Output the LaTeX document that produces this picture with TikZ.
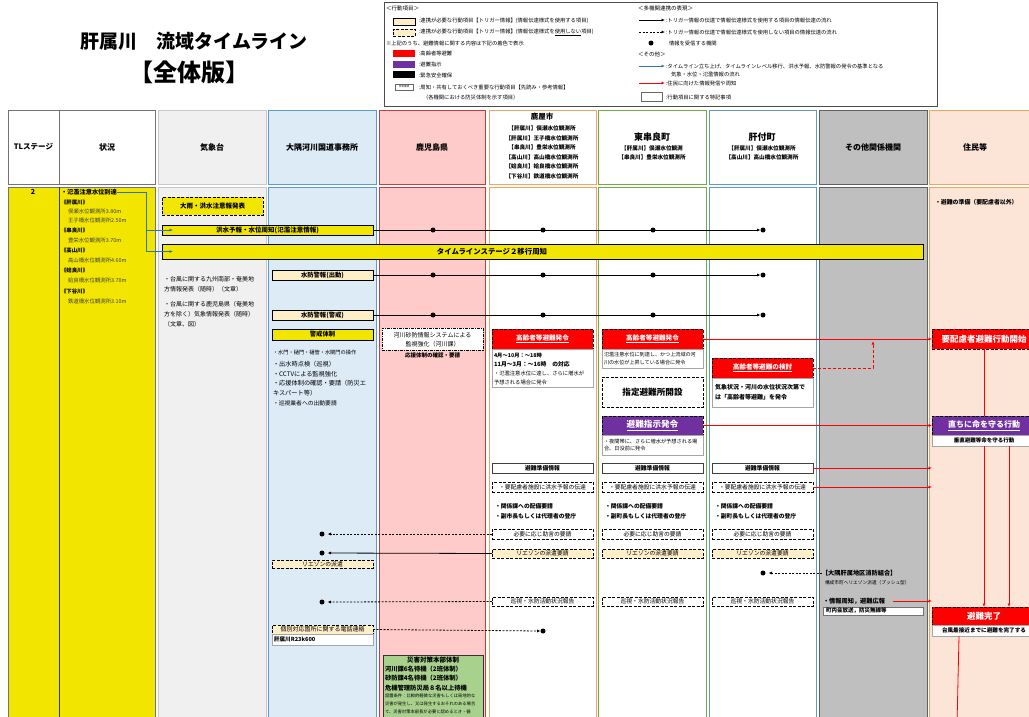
\documentclass[tikz,border=0pt]{standalone}
\usepackage{fontspec}
\setmainfont{Noto Sans CJK JP}
\usetikzlibrary{arrows.meta}
\definecolor{tly}{HTML}{F2E600}
\definecolor{cream}{HTML}{FFEFC8}
\definecolor{kishoF}{HTML}{F0F0F0}
\definecolor{kishoD}{HTML}{C8C8C8}
\definecolor{osumiF}{HTML}{DDEBF7}
\definecolor{osumiD}{HTML}{5B9BD5}
\definecolor{kagoF}{HTML}{FFCACA}
\definecolor{kagoD}{HTML}{C83C3C}
\definecolor{oraD}{HTML}{F4A460}
\definecolor{greD}{HTML}{70AD47}
\definecolor{sonoF}{HTML}{BFBFBF}
\definecolor{sonoD}{HTML}{606060}
\definecolor{jumF}{HTML}{FCE4D6}
\definecolor{redA}{HTML}{FF0000}
\definecolor{purA}{HTML}{7030A0}
\definecolor{greF}{HTML}{A9D18E}
\definecolor{blueA}{HTML}{2E75B6}
\definecolor{noteD}{HTML}{A6A6A6}
\newcommand\fs[1]{\fontsize{#1}{#1}\selectfont}
\newcounter{tn}
\newcommand\tx[4][]{\stepcounter{tn}\node[anchor=west,#1] (t\arabic{tn}) at (#2,#3) {#4};}
\newcommand\tc[4][]{\stepcounter{tn}\node[#1] (t\arabic{tn}) at (#2,#3) {#4};}
\newcommand\bx[7]{\node[#6, minimum width={(#4-#2)*1pt}, minimum height={(#5-#3)*1pt}] (#1) at ({(#2+#4)/2},{(#3+#5)/2}) {#7};}
\tikzset{
 hdr/.style={line width=0.9pt},
 ybox/.style={draw=black, fill=tly, line width=0.8pt},
 ydbox/.style={draw=black, fill=tly, line width=1pt, dash pattern=on 3pt off 1.5pt},
 cbox/.style={draw=black, fill=cream, line width=0.8pt},
 cdbox/.style={draw=black, fill=cream, line width=1pt, dash pattern=on 3pt off 1.5pt},
 wdbox/.style={draw=black, fill=white, line width=0.9pt, dash pattern=on 3pt off 1.5pt},
 wbox/.style={draw=black!75, fill=white, line width=0.8pt},
 note/.style={draw=noteD, fill=white, line width=0.5pt},
 rbox/.style={draw=black, fill=redA, line width=1pt, dash pattern=on 3pt off 1.5pt, text=white},
 pbox/.style={draw=black, fill=purA, line width=1pt, dash pattern=on 3pt off 1.5pt, text=white},
 ddbox/.style={draw=black, fill=white, line width=0.9pt, dash pattern=on 3pt off 1pt on 1pt off 1pt},
 dotn/.style={circle, fill=black, minimum size=5pt},
 arr/.style={draw=black, line width=0.8pt, -{Latex[length=3.5pt,width=3pt]}},
 darr/.style={arr, dash pattern=on 2pt off 1.5pt},
 rarr/.style={draw=redA, line width=0.8pt, -{Latex[length=3.5pt,width=3pt]}},
 barr/.style={draw=blueA, line width=0.8pt, -{Latex[length=3.5pt,width=3pt]}},
}
\begin{document}
\begin{tikzpicture}[x=1pt,y=-1pt, every node/.style={inner sep=0pt, outer sep=0pt}]
\useasboundingbox (0,0) rectangle (1029,716);
\clip (0,0) rectangle (1029,716);
\fill[white] (0,0) rectangle (1029,716);
% title
\tc[font=\bfseries\fs{19}]{194}{41}{肝属川\quad 流域タイムライン}
\tc[font=\bfseries\fs{24}]{189}{72}{【全体版】}
% legend
\bx{leg}{384}{2}{937}{106}{draw=black!70, line width=0.6pt}{}
\tx[font=\fs{5.5}]{386}{8}{＜行動項目＞}
\bx{ls1}{393}{18}{415}{25}{cbox, line width=0.6pt}{}
\tx[font=\fs{5.3}]{419}{21}{:連携が必要な行動項目【トリガー情報】(情報伝達様式を使用する項目)}
\bx{ls2}{393}{29}{415}{36}{cdbox, line width=0.6pt}{}
\tx[font=\fs{5.3}]{419}{32}{:連携が必要な行動項目【トリガー情報】(情報伝達様式を\underline{使用しない}項目)}
\tx[font=\fs{5.3}]{386}{43}{※上記のうち、避難情報に関する内容は下記の着色で表示}
\bx{ls3}{393}{50}{415}{57}{fill=redA}{}
\tx[font=\fs{5.3}]{419}{53}{:高齢者等避難}
\bx{ls4}{393}{61}{415}{68}{fill=purA}{}
\tx[font=\fs{5.3}]{419}{64}{:避難指示}
\bx{ls5}{393}{71}{415}{78}{fill=black}{}
\tx[font=\fs{5.3}]{419}{75}{:緊急安全確保}
\bx{ls6}{395}{84}{413}{90}{note, draw=black!60}{\fs{2.5}参考事項}
\tx[font=\fs{5.3}]{419}{87}{:周知・共有しておくべき重要な行動項目【先読み・参考情報】}
\tx[font=\fs{5.3}]{423}{97}{（各機関における防災体制を示す項目）}
\tx[font=\fs{5.5}]{638}{8}{＜多機関連携の表現＞}
\coordinate (la1) at (639,20); \coordinate (la1e) at (665,20);
\draw[arr] (la1) -- (la1e);
\tx[font=\fs{5.3}]{666}{20}{:トリガー情報の伝達で情報伝達様式を使用する項目の情報伝達の流れ}
\coordinate (la2) at (639,32); \coordinate (la2e) at (665,32);
\draw[darr] (la2) -- (la2e);
\tx[font=\fs{5.3}]{666}{32}{:トリガー情報の伝達で情報伝達様式を使用しない項目の情報伝達の流れ}
\node[dotn] (ld) at (651,43) {};
\tx[font=\fs{5.3}]{669}{43}{情報を受信する機関}
\tx[font=\fs{5.5}]{638}{54}{＜その他＞}
\coordinate (la3) at (639,66); \coordinate (la3e) at (665,66);
\draw[barr] (la3) -- (la3e);
\tx[font=\fs{5.3}]{666}{66}{:タイムライン立ち上げ、タイムラインレベル移行、洪水予報、水防警報の発令の基準となる}
\tx[font=\fs{5.3}]{671}{74}{気象・水位・氾濫情報の流れ}
\coordinate (la4) at (639,83); \coordinate (la4e) at (665,83);
\draw[rarr] (la4) -- (la4e);
\tx[font=\fs{5.3}]{666}{83}{:住民に向けた情報発信や周知}
\bx{ls7}{641}{92}{662}{101}{note, draw=black!60}{}
\tx[font=\fs{5.3}]{666}{97}{:行動項目に関する特記事項}
% header
\bx{hTL}{8}{110}{59}{184}{draw=black!55, fill=white, hdr}{\bfseries\fs{7.5}TLステージ}
\bx{hJK}{59}{110}{155}{184}{draw=black!55, fill=white, hdr}{\bfseries\fs{8}状況}
\bx{hKS}{158}{110}{266}{184}{draw=kishoD, fill=kishoF, hdr}{\bfseries\fs{8}気象台}
\bx{hOS}{268}{110}{376}{184}{draw=osumiD, fill=osumiF, hdr}{\bfseries\fs{8}大隅河川国道事務所}
\bx{hKG}{379}{110}{485}{184}{draw=kagoD, fill=kagoF, hdr}{\bfseries\fs{8}鹿児島県}
\bx{hKN}{489}{110}{596}{184}{draw=oraD, fill=white, hdr}{}
\bx{hHK}{598}{110}{706}{184}{draw=greD, fill=white, hdr}{}
\bx{hKM}{709}{110}{816}{184}{draw=osumiD, fill=white, hdr}{}
\bx{hSO}{819}{110}{927}{184}{draw=sonoD, fill=sonoF, hdr}{\bfseries\fs{8}その他関係機関}
\bx{hJM}{929}{110}{1040}{184}{draw=oraD, fill=jumF, hdr}{}
\tc[font=\bfseries\fs{8}]{975}{147}{住民等}
\tc[font=\bfseries\fs{7.5}]{542}{117}{鹿屋市}
\tc[font=\bfseries\fs{5.6}]{542}{128}{【肝属川】俣瀬水位観測所}
\tc[font=\bfseries\fs{5.6}]{542}{138}{【肝属川】王子橋水位観測所}
\tc[font=\bfseries\fs{5.6}]{542}{147}{【串良川】豊栄水位観測所}
\tc[font=\bfseries\fs{5.6}]{542}{157}{【高山川】高山橋水位観測所}
\tc[font=\bfseries\fs{5.6}]{542}{166}{【姶良川】姶良橋水位観測所}
\tc[font=\bfseries\fs{5.6}]{542}{176}{【下谷川】鉄道橋水位観測所}
\tc[font=\bfseries\fs{9}]{652}{137}{東串良町}
\tc[font=\bfseries\fs{5.6}]{652}{148}{【肝属川】俣瀬水位観測}
\tc[font=\bfseries\fs{5.6}]{652}{157}{【串良川】豊栄水位観測所}
\tc[font=\bfseries\fs{9}]{762}{137}{肝付町}
\tc[font=\bfseries\fs{5.6}]{762}{148}{【肝属川】俣瀬水位観測所}
\tc[font=\bfseries\fs{5.6}]{762}{157}{【高山川】高山橋水位観測所}
% body columns
\draw[draw=black!55, fill=tly, hdr] (8,187) rectangle (155,730);
\draw[draw=black!80, line width=0.8pt] (59,187) -- (59,730);
\draw[draw=kishoD, fill=kishoF, hdr] (158,187) rectangle (266,730);
\draw[draw=osumiD, fill=osumiF, hdr] (268,187) rectangle (376,730);
\draw[draw=kagoD, fill=kagoF, hdr] (379,187) rectangle (485,730);
\draw[draw=oraD, fill=white, hdr] (489,187) rectangle (596,730);
\draw[draw=greD, fill=white, hdr] (598,187) rectangle (706,730);
\draw[draw=osumiD, fill=white, hdr] (709,187) rectangle (816,730);
\draw[draw=sonoD, fill=sonoF, hdr] (819,187) rectangle (927,730);
\draw[draw=oraD, fill=jumF, hdr] (929,187) rectangle (1040,730);
% TL stage and situation
\tc[font=\bfseries\fs{7}]{33}{192}{2}
\node[anchor=west, font=\bfseries\fs{6.2}] (s1) at (61,192) {・氾濫注意水位到達};
\tx[font=\bfseries\fs{5.4}]{61}{202}{《肝属川》}
\tx[font=\fs{5.4}, text=black!75]{68}{211}{俣瀬水位観測所3.80m}
\tx[font=\fs{5.4}, text=black!75]{68}{220}{王子橋水位観測所2.50m}
\tx[font=\bfseries\fs{5.4}]{61}{230}{《串良川》}
\tx[font=\fs{5.4}, text=black!75]{68}{240}{豊栄水位観測所3.70m}
\tx[font=\bfseries\fs{5.4}]{61}{250}{《高山川》}
\tx[font=\fs{5.4}, text=black!75]{68}{260}{高山橋水位観測所4.60m}
\tx[font=\bfseries\fs{5.4}]{61}{270}{《姶良川》}
\tx[font=\fs{5.4}, text=black!75]{68}{280}{姶良橋水位観測所3.70m}
\tx[font=\bfseries\fs{5.4}]{61}{291}{《下谷川》}
\tx[font=\fs{5.4}, text=black!75]{68}{301}{鉄道橋水位観測所3.10m}
% kishodai
\bx{oame}{162}{197}{263}{215}{ydbox}{\bfseries\fs{6.5}大雨・洪水注意報発表}
\tx[font=\fs{6}]{164}{279}{・台風に関する九州南部・奄美地}
\tx[font=\fs{6}]{164}{289}{方情報発表（随時）（文章）}
\tx[font=\fs{6}]{164}{304}{・台風に関する鹿児島県（奄美地}
\tx[font=\fs{6}]{164}{314}{方を除く）気象情報発表（随時）}
\tx[font=\fs{6}]{164}{324}{（文章、図）}
% long row boxes
\bx{ff}{162}{225}{373}{235}{ybox}{\bfseries\fs{6.5}洪水予報・水位周知(氾濫注意情報)}
\bx{tls}{162}{244}{923}{259}{ybox}{}
\tc[font=\bfseries\fs{7.4}]{492}{251.5}{タイムラインステージ２移行周知}
\bx{sk1}{272}{270}{373}{280}{cbox}{\bfseries\fs{6.3}水防警報(出動)}
\bx{sk2}{272}{310}{373}{320}{cbox}{\bfseries\fs{6.3}水防警報(警戒)}
\bx{kt}{272}{329}{373}{340}{ybox}{\bfseries\fs{6.3}警戒体制}
% osumi list
\tx[font=\fs{5.2}]{273}{353}{・水門・樋門・樋管・水閘門の操作}
\tx[font=\fs{6.2}]{273}{364}{・出水時点検（巡視）}
\tx[font=\fs{6.2}]{273}{374}{・CCTVによる監視強化}
\tx[font=\fs{6.2}]{273}{383}{・応援体制の確認・要請（防災エ}
\tx[font=\fs{6.2}]{273}{393}{キスパート等）}
\tx[font=\fs{5.8}]{273}{403}{・巡視業者への出動要請}
% kagoshima
\bx{ksb}{382}{328}{483}{350}{ddbox}{}
\tc[font=\fs{6}]{432.5}{335}{河川砂防情報システムによる}
\tc[font=\fs{6}]{432.5}{344}{監視強化（河川課）}
\tc[font=\bfseries\fs{5.5}]{432.5}{355}{応援体制の確認・要請}
% row dots and lines
\foreach \r/\y in {1/230,2/275,3/315}{
  \node[dotn] (r\r a) at (433,\y) {};
  \node[dotn] (r\r b) at (543,\y) {};
  \node[dotn] (r\r c) at (653,\y) {};
  \node[dotn] (r\r d) at (763,\y) {};
}
\draw[arr] (ff.east) -- (r1d.west);
\draw[arr] (sk1.east) -- (r2d.west);
\draw[arr] (sk2.east) -- (r3d.west);
% blue arrows
\coordinate (bv) at (146,192);
\draw[barr] (s1.east) -- (bv) |- ([xshift=11pt]ff.west);
\draw[barr] (bv) |- ([xshift=11pt]tls.west);
% kanoya
\bx{kr1}{492}{329}{593}{349}{rbox}{\bfseries\fs{6.6}\underline{高齢者等避難発令}}
\bx{kn1}{492}{349}{593}{387}{note}{}
\tx[font=\bfseries\fs{5.3}]{494}{355}{4月～10月：～18時}
\tx[font=\bfseries\fs{5.8}]{494}{364}{11月～3月：～16時　の対応}
\tx[font=\fs{5.3}]{494}{373}{・氾濫注意水位に達し、さらに増水が}
\tx[font=\fs{5.3}]{494}{382}{予想される場合に発令}
% higashikushira
\bx{kr2}{602}{329}{703}{349}{rbox}{\bfseries\fs{6.6}\underline{高齢者等避難発令}}
\bx{kn2}{602}{349}{703}{368}{note}{}
\tx[font=\fs{5.1}]{604}{355}{氾濫注意水位に到達し、かつ上流域の河}
\tx[font=\fs{5.1}]{604}{363}{川の水位が上昇している場合に発令}
\bx{shitei}{602}{377}{703}{407}{wdbox}{\bfseries\fs{8.6}指定避難所開設}
\bx{ps}{602}{416}{703}{435}{pbox}{\bfseries\fs{8.6}\underline{避難指示発令}}
\bx{pn}{602}{435}{703}{455}{note}{}
\tx[font=\fs{5.2}]{604}{442}{・夜間帯に、さらに増水が予想される場}
\tx[font=\fs{5.2}]{604}{449}{合、日没前に発令}
% kimotsuki
\bx{kk}{712}{358}{813}{378}{rbox}{\bfseries\fs{6.6}\underline{高齢者等避難の検討}}
\bx{kkn}{712}{378}{813}{407}{note}{}
\tx[font=\bfseries\fs{6}]{715}{387}{気象状況・河川の水位状況次第で}
\tx[font=\bfseries\fs{6}]{715}{397}{は「高齢者等避難」を発令}
% jumin
\tx[font=\bfseries\fs{5.9}]{935}{202}{・避難の準備（要配慮者以外）}
\bx{yk}{932}{329}{1036}{349}{rbox}{\bfseries\fs{8.5}要配慮者避難行動開始}
\bx{im}{932}{416}{1036}{435}{pbox}{\bfseries\fs{8}\underline{直ちに命を守る行動}}
\bx{imn}{932}{435}{1036}{446}{note}{\bfseries\fs{5.5}垂直避難等命を守る行動}
\bx{kanryo}{932}{607}{1036}{625}{rbox}{\bfseries\fs{8.5}避難完了}
\bx{kann}{932}{625}{1036}{636}{note}{\bfseries\fs{5.6}台風最接近までに避難を完了する}
% red connectors
\draw[rarr] (kr2.east) -- (yk.west);
\draw[rarr] (ps.east) -- (im.west);
\coordinate (kup) at (873,341);
\draw[rarr, dash pattern=on 3pt off 2pt] (kk.east) -| (kup);
\draw[draw=redA, line width=0.8pt] (yk.south) -- (im.north);
\draw[rarr] (imn.south) -- (kanryo.north);
\draw[rarr] ([xshift=25pt]imn.south) -- ([xshift=25pt]kanryo.north);
\coordinate (kbot) at (957,725);
\draw[draw=redA, line width=0.8pt] ([xshift=-25pt]kann.south) -- (kbot);
% rows of municipal boxes
\foreach \n/\x in {a/492,b/602,c/712}{
  \bx{hj\n}{\x}{463}{\x+101}{473}{wbox}{\bfseries\fs{5.8}避難準備情報}
  \bx{yh\n}{\x}{482}{\x+101}{492}{wdbox}{\fs{5.8}・要配慮者施設に洪水予報の伝達}
  \bx{jo\n}{\x}{529}{\x+101}{539}{wdbox}{\fs{5.8}必要に応じ助言の要請}
  \bx{li\n}{\x}{549}{\x+101}{558}{cdbox}{\fs{5.8}リエゾンの派遣要請}
  \bx{ju\n}{\x}{597}{\x+101}{606}{wdbox}{\fs{5.8}巡視・水防活動状況報告}
}
\tx[font=\bfseries\fs{5.8}]{495}{506}{・関係課への配備要請}
\tx[font=\bfseries\fs{5.8}]{495}{516}{・副市長もしくは代理者の登庁}
\tx[font=\bfseries\fs{5.8}]{605}{506}{・関係課への配備要請}
\tx[font=\bfseries\fs{5.8}]{605}{516}{・副町長もしくは代理者の登庁}
\tx[font=\bfseries\fs{5.8}]{715}{506}{・関係課への配備要請}
\tx[font=\bfseries\fs{5.8}]{715}{516}{・副町長もしくは代理者の登庁}
\coordinate (jm1) at (932,468);
\coordinate (jm2) at (932,487);
\draw[rarr] (hjc.east) -- (jm1);
\draw[rarr] (yhc.east) -- (jm2);
% osumi lower
\node[dotn] (oa) at (322,534) {};
\node[dotn] (ob) at (322,553) {};
\node[dotn] (oc) at (322,602) {};
\draw[darr] (joa.west) -- ([xshift=3pt]oa.east);
\draw[arr] (lia.west) -- ([xshift=3pt]ob.east);
\draw[darr] (jua.west) -- ([xshift=3pt]oc.east);
\bx{lh}{272}{560}{373}{568}{cdbox}{\fs{5.8}リエゾンの派遣}
\bx{den}{272}{625}{373}{634}{cdbox}{\fs{6}個別対応箇所に関する電話連絡}
\bx{denn}{272}{634}{373}{645}{note}{}
\tx[font=\bfseries\fs{5.6}]{274}{639.5}{肝属川R23k600}
\node[dotn] (kd) at (543,631) {};
\draw[darr] (den.east) -- (kd.west);
% sonota
\node[anchor=west, font=\bfseries\fs{6.2}] (shobo) at (822,573) {【大隅肝属地区消防組合】};
\tx[font=\fs{4.7}]{825}{583}{構成市町へリエゾン派遣（プッシュ型）}
\node[dotn] (md) at (763,573) {};
\draw[darr] (shobo.west) -- ([xshift=3pt]md.east);
\node[anchor=west, font=\bfseries\fs{6.2}] (joho) at (823,601) {・情報周知，避難広報};
\coordinate (jm3) at (932,601);
\draw[rarr] ([xshift=8pt]joho.east) -- (jm3);
\bx{chonai}{823}{607}{923}{615}{note, draw=black!55}{}
\tx[font=\bfseries\fs{5.5}]{826}{611}{町内会放送，防災無線等}
% kagoshima green
\bx{sai}{383}{655}{483}{730}{draw=black!80, fill=greF, line width=0.8pt}{}
\tc[font=\bfseries\fs{6.5}]{433}{660}{災害対策本部体制}
\tx[font=\bfseries\fs{6.3}]{385}{669}{河川課6名待機（2班体制）}
\tx[font=\bfseries\fs{6.3}]{385}{678}{砂防課4名待機（2班体制）}
\tx[font=\bfseries\fs{6.3}]{385}{688}{危機管理防災局８名以上待機}
\tx[font=\fs{4.3}]{385}{696}{設置条件：比較的軽微な災害もしくは局地的な}
\tx[font=\fs{4.3}]{385}{704}{災害が発生し、又は発生するおそれのある場合}
\tx[font=\fs{4.3}]{385}{712}{て、災害対策本部長が必要と認めるとき・循}
\end{tikzpicture}
\end{document}
